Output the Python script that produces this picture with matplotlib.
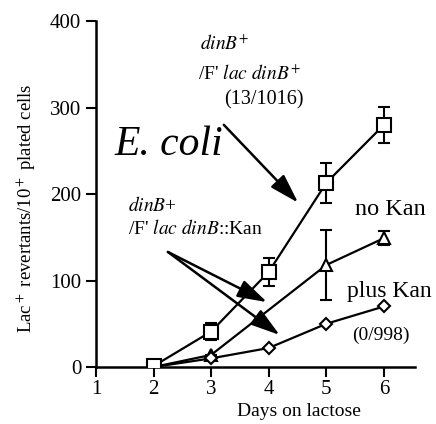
import matplotlib
matplotlib.use("Agg")
from matplotlib import pyplot as plt

plt.rcParams['font.family'] = ['Liberation Serif', 'DejaVu Serif']
plt.rcParams['mathtext.fontset'] = 'stix'

# days on lactose
days = [2, 3, 4, 5, 6]

# dinB+ / F' lac dinB+ (squares)
sq_vals = [1, 41, 110, 213, 280]
sq_err = [0, 10, 16, 23, 21]

# no Kan (triangles), no point on day 4
tri_days = [2, 3, 5, 6]
tri_vals = [0, 14, 118, 149]
tri_err = [0, 0, 40, 8]

# plus Kan (diamonds)
dia_vals = [0, 10, 22, 50, 70]

x_ticks = [1, 2, 3, 4, 5, 6]
y_ticks = [0, 100, 200, 300, 400]

fig = plt.figure(figsize=(4.36, 4.24), dpi=100)
ax = fig.add_axes([0.220, 0.1344, 0.732, 0.816])

ax.plot(tri_days, tri_vals, color='black', lw=1.6, marker='^', ms=8,
        mfc='white', mec='black', mew=1.5, zorder=3)
ax.errorbar(tri_days, tri_vals, yerr=tri_err, fmt='none', ecolor='black',
            elinewidth=1.5, capsize=4, capthick=1.5, zorder=2)
ax.plot(days, dia_vals, color='black', lw=1.6, marker='D', ms=6,
        mfc='white', mec='black', mew=1.5, zorder=3)
ax.errorbar(days, sq_vals, yerr=sq_err, fmt='none', ecolor='black',
            elinewidth=1.5, capsize=4, capthick=1.5, zorder=2)
ax.plot(days, sq_vals, color='black', lw=1.6, marker='s', ms=10,
        mfc='white', mec='black', mew=1.5, zorder=4)

ax.set_xlim(1, 6.54)
ax.set_ylim(0, 400)
ax.set_xticks(x_ticks)
ax.set_yticks(y_ticks)
ax.spines['top'].set_visible(False)
ax.spines['right'].set_visible(False)
ax.spines['left'].set_linewidth(1.8)
ax.spines['bottom'].set_linewidth(1.8)
ax.tick_params(direction='out', length=7, width=1.5, labelsize=15)
ax.tick_params(axis='x', pad=2)
ax.set_xlabel('Days on lactose', fontsize=14)
ax.xaxis.set_label_coords(0.636, -0.103)
ax.set_ylabel(r"Lac$^+$ revertants/10$^+$ plated cells", fontsize=13.5)
ax.yaxis.set_label_coords(-0.18, 0.46)

ax.text(2.26, 245, 'E. coli', fontsize=30, style='italic', ha='center', va='baseline')

arrow = dict(arrowstyle='-|>,head_length=1.8,head_width=0.55',
             color='black', lw=1.8, shrinkA=0, shrinkB=0)

ax.text(2.81, 373, r"$\it{dinB}^{+}$", fontsize=14, va='center')
ax.text(2.77, 338, r"/F' $\it{lac\ dinB}^{+}$", fontsize=14, va='center')
ax.text(3.22, 309, '(13/1016)', fontsize=14.5, va='center')
ax.annotate('', xy=(4.51, 190), xytext=(3.22, 280), arrowprops=arrow)

ax.text(1.56, 187, r"$\it{dinB}$+", fontsize=14, va='center')
ax.text(1.56, 160, r"/F' $\it{lac\ dinB}$::Kan", fontsize=14, va='center')
for tip in [(3.97, 75), (4.19, 37)]:
    ax.annotate('', xy=tip, xytext=(2.25, 133), arrowprops=arrow)

ax.text(5.50, 182, 'no Kan', fontsize=17.5, va='center')
ax.text(5.36, 87, 'plus Kan', fontsize=17, va='center')
ax.text(5.44, 37, '(0/998)', fontsize=14, va='center')

fig.savefig('out.png', dpi=100)
